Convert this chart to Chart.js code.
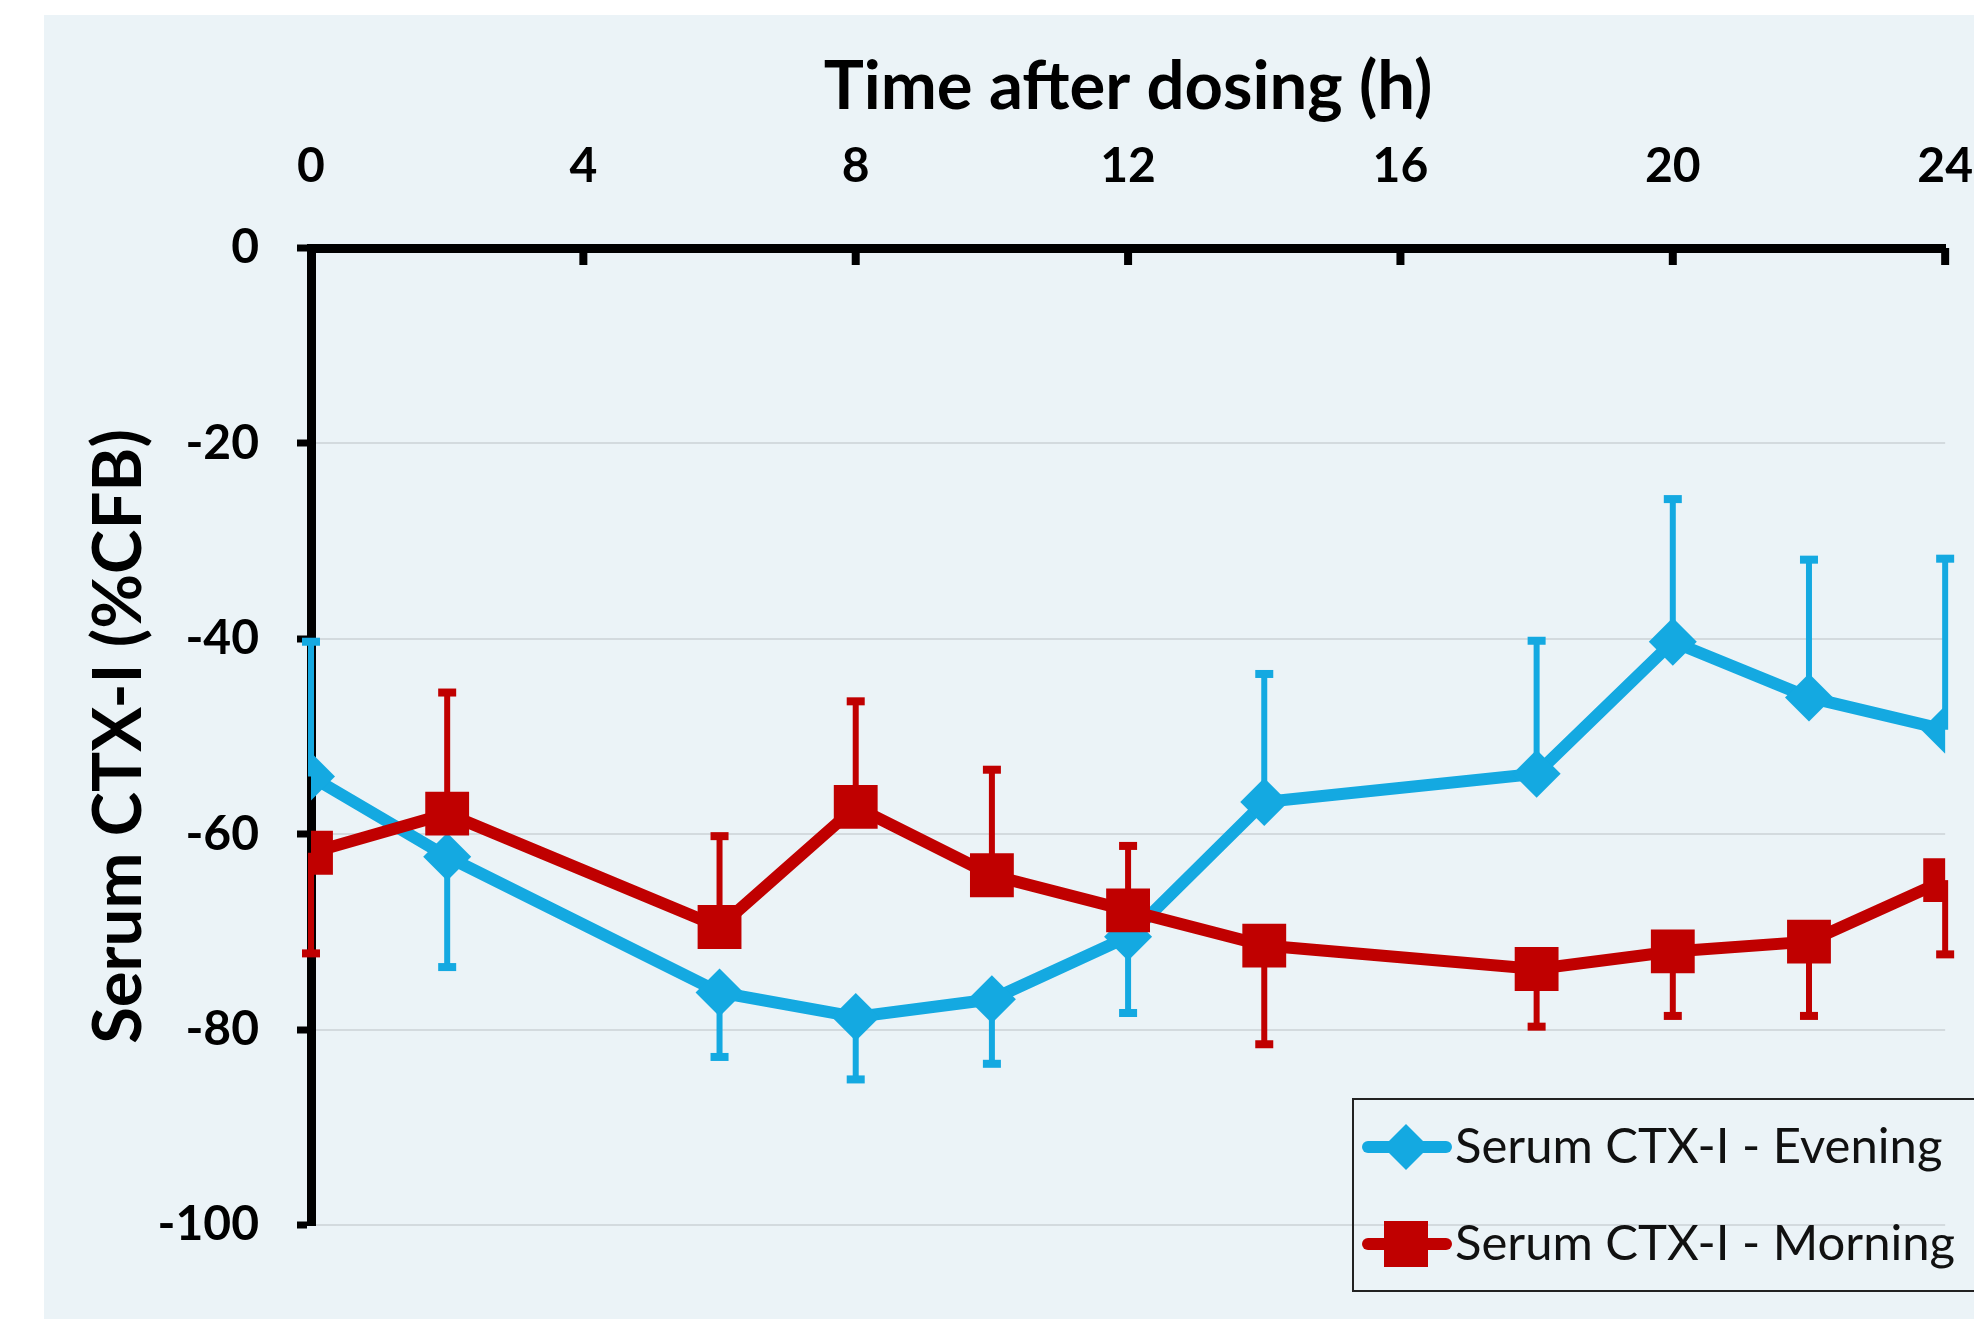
<!DOCTYPE html>
<html>
<head>
<meta charset="utf-8">
<script src="https://cdn.jsdelivr.net/npm/chart.js@4.4.1/dist/chart.umd.min.js"></script>
<style>
  html, body { margin: 0; padding: 0; background: #ffffff; overflow: hidden; width: 1974px; height: 1319px; }
  #wrap { position: absolute; left: 44px; top: 15px; width: 1982px; height: 1304px; background: #EBF3F7; }
  canvas { display: block; }
</style>
</head>
<body>
<div id="wrap"><canvas id="c" width="1982" height="1304"></canvas></div>
<script>
// ---- data ----
const timeHours   = [0, 2, 6, 8, 10, 12, 14, 18, 20, 22, 24];
const eveningMean = [-54.1, -62.3, -76.2, -78.7, -76.9, -70.5, -56.7, -53.8, -40.3, -46.0, -49.3];
const eveningErr  = [13.8, -11.3, -6.6, -6.4, -6.6, -7.8, 13.1, 13.6, 14.6, 14.1, 17.5];
const morningMean = [-61.9, -57.9, -69.5, -57.2, -64.2, -67.8, -71.4, -73.8, -72.0, -71.0, -64.7];
const morningErr  = [-10.3, 12.4, 9.3, 10.8, 10.8, 6.6, -10.1, -5.9, -6.6, -7.6, -7.6];
const xTickValues = [0, 4, 8, 12, 16, 20, 24];
const yTickValues = [0, -20, -40, -60, -80, -100];
const seriesNames = ['Serum CTX-I - Evening', 'Serum CTX-I - Morning'];
const xTitle = 'Time after dosing (h)';
const yTitle = 'Serum CTX-I (%CFB)';

const BLUE = '#14A9E1';
const RED = '#C00000';
const FONT = 'Lato, "Open Sans", sans-serif';

const toPoints = (xs, ys) => xs.map((x, i) => ({ x: x, y: ys[i] }));

const errorBars = {
  id: 'errorBars',
  beforeDatasetsDraw(chart) {
    const ctx = chart.ctx;
    const xs = chart.scales.x, ys = chart.scales.y;
    chart.data.datasets.forEach(ds => {
      const err = ds.errValues;
      if (!err) return;
      ctx.save();
      ctx.strokeStyle = ds.borderColor;
      ctx.fillStyle = ds.borderColor;
      ctx.lineWidth = 6;
      ds.data.forEach((p, i) => {
        const px = xs.getPixelForValue(p.x);
        const py0 = ys.getPixelForValue(p.y);
        const py1 = ys.getPixelForValue(p.y + err[i]);
        ctx.beginPath();
        ctx.moveTo(px, py0);
        ctx.lineTo(px, py1);
        ctx.stroke();
        ctx.fillRect(px - 9, py1 - 4, 18, 8);
      });
      ctx.restore();
    });
  }
};

const innerTicks = {
  id: 'innerTicks',
  afterDraw(chart) {
    const ctx = chart.ctx;
    const xs = chart.scales.x;
    const top = chart.chartArea.top;
    ctx.save();
    ctx.strokeStyle = '#000';
    ctx.lineWidth = 8;
    xTickValues.forEach(v => {
      if (v === 0) return;
      const px = xs.getPixelForValue(v);
      ctx.beginPath();
      ctx.moveTo(px, top);
      ctx.lineTo(px, top + 17);
      ctx.stroke();
    });
    ctx.restore();
  }
};

const boxLegend = {
  id: 'boxLegend',
  afterDraw(chart) {
    const ctx = chart.ctx;
    const bx = 1309, by = 1084, bw = 720, bh = 192;
    ctx.save();
    ctx.strokeStyle = '#222';
    ctx.lineWidth = 2;
    ctx.strokeRect(bx, by, bw, bh);
    const rows = [by + 48, by + 145];
    chart.data.datasets.forEach((ds, i) => {
      const cy = rows[i];
      ctx.strokeStyle = ds.borderColor;
      ctx.fillStyle = ds.borderColor;
      ctx.lineWidth = 12;
      ctx.lineCap = 'round';
      ctx.beginPath();
      ctx.moveTo(1324, cy);
      ctx.lineTo(1402, cy);
      ctx.stroke();
      const cx = 1362;
      if (ds.pointStyle === 'rectRot') {
        ctx.beginPath();
        ctx.moveTo(cx - 23, cy); ctx.lineTo(cx, cy - 23); ctx.lineTo(cx + 23, cy); ctx.lineTo(cx, cy + 23);
        ctx.closePath(); ctx.fill();
      } else {
        ctx.fillRect(cx - 22, cy - 23, 44, 46);
      }
      ctx.fillStyle = '#111';
      ctx.font = '49px ' + FONT;
      ctx.textBaseline = 'middle';
      ctx.textAlign = 'left';
      ctx.fillText(seriesNames[i], 1411, cy);
    });
    ctx.restore();
  }
};

new Chart(document.getElementById('c'), {
  type: 'line',
  data: {
    datasets: [
      {
        label: seriesNames[0],
        data: toPoints(timeHours, eveningMean),
        errValues: eveningErr,
        borderColor: BLUE, backgroundColor: BLUE,
        borderWidth: 12,
        pointStyle: 'rectRot', pointRadius: 24, pointHoverRadius: 24,
        pointBorderWidth: 0,
        tension: 0, order: 1
      },
      {
        label: seriesNames[1],
        data: toPoints(timeHours, morningMean),
        errValues: morningErr,
        borderColor: RED, backgroundColor: RED,
        borderWidth: 12,
        pointStyle: 'rect', pointRadius: 31, pointHoverRadius: 31,
        pointBorderWidth: 0,
        tension: 0, order: 0
      }
    ]
  },
  options: {
    responsive: false,
    animation: false,
    devicePixelRatio: 1,
    layout: { padding: { left: 0, top: 0, right: 0, bottom: 94 } },
    plugins: { legend: { display: false }, tooltip: { enabled: false }, title: { display: false } },
    events: [],
    scales: {
      x: {
        type: 'linear', position: 'top', min: 0, max: 24,
        afterBuildTicks: s => { s.ticks = xTickValues.map(v => ({ value: v })); },
        ticks: { color: '#000', font: { family: FONT, size: 48, weight: 'bold' }, padding: 53, maxRotation: 0 },
        grid: { display: true, drawOnChartArea: false, drawTicks: false },
        border: { color: '#000', width: 9 },
        title: { display: true, text: xTitle, color: '#000', font: { family: FONT, size: 67, weight: 'bold' }, padding: { top: 32, bottom: 0 } },
        afterFit: s => { s.height = 233; }
      },
      y: {
        type: 'linear', position: 'left', min: -100, max: 0,
        afterBuildTicks: s => { s.ticks = yTickValues.map(v => ({ value: v })); },
        ticks: { color: '#000', font: { family: FONT, size: 48, weight: 'bold' }, padding: 38 },
        grid: { color: '#D3DADE', lineWidth: 2, tickColor: '#000', tickWidth: 7, tickLength: 14, drawOnChartArea: true },
        border: { color: '#000', width: 9 },
        title: { display: true, text: yTitle, color: '#000', font: { family: FONT, size: 67, weight: 'bold' }, padding: { top: 35, bottom: 0 } },
        afterFit: s => { s.width = 267; }
      }
    }
  },
  plugins: [errorBars, innerTicks, boxLegend]
});
</script>
</body>
</html>
